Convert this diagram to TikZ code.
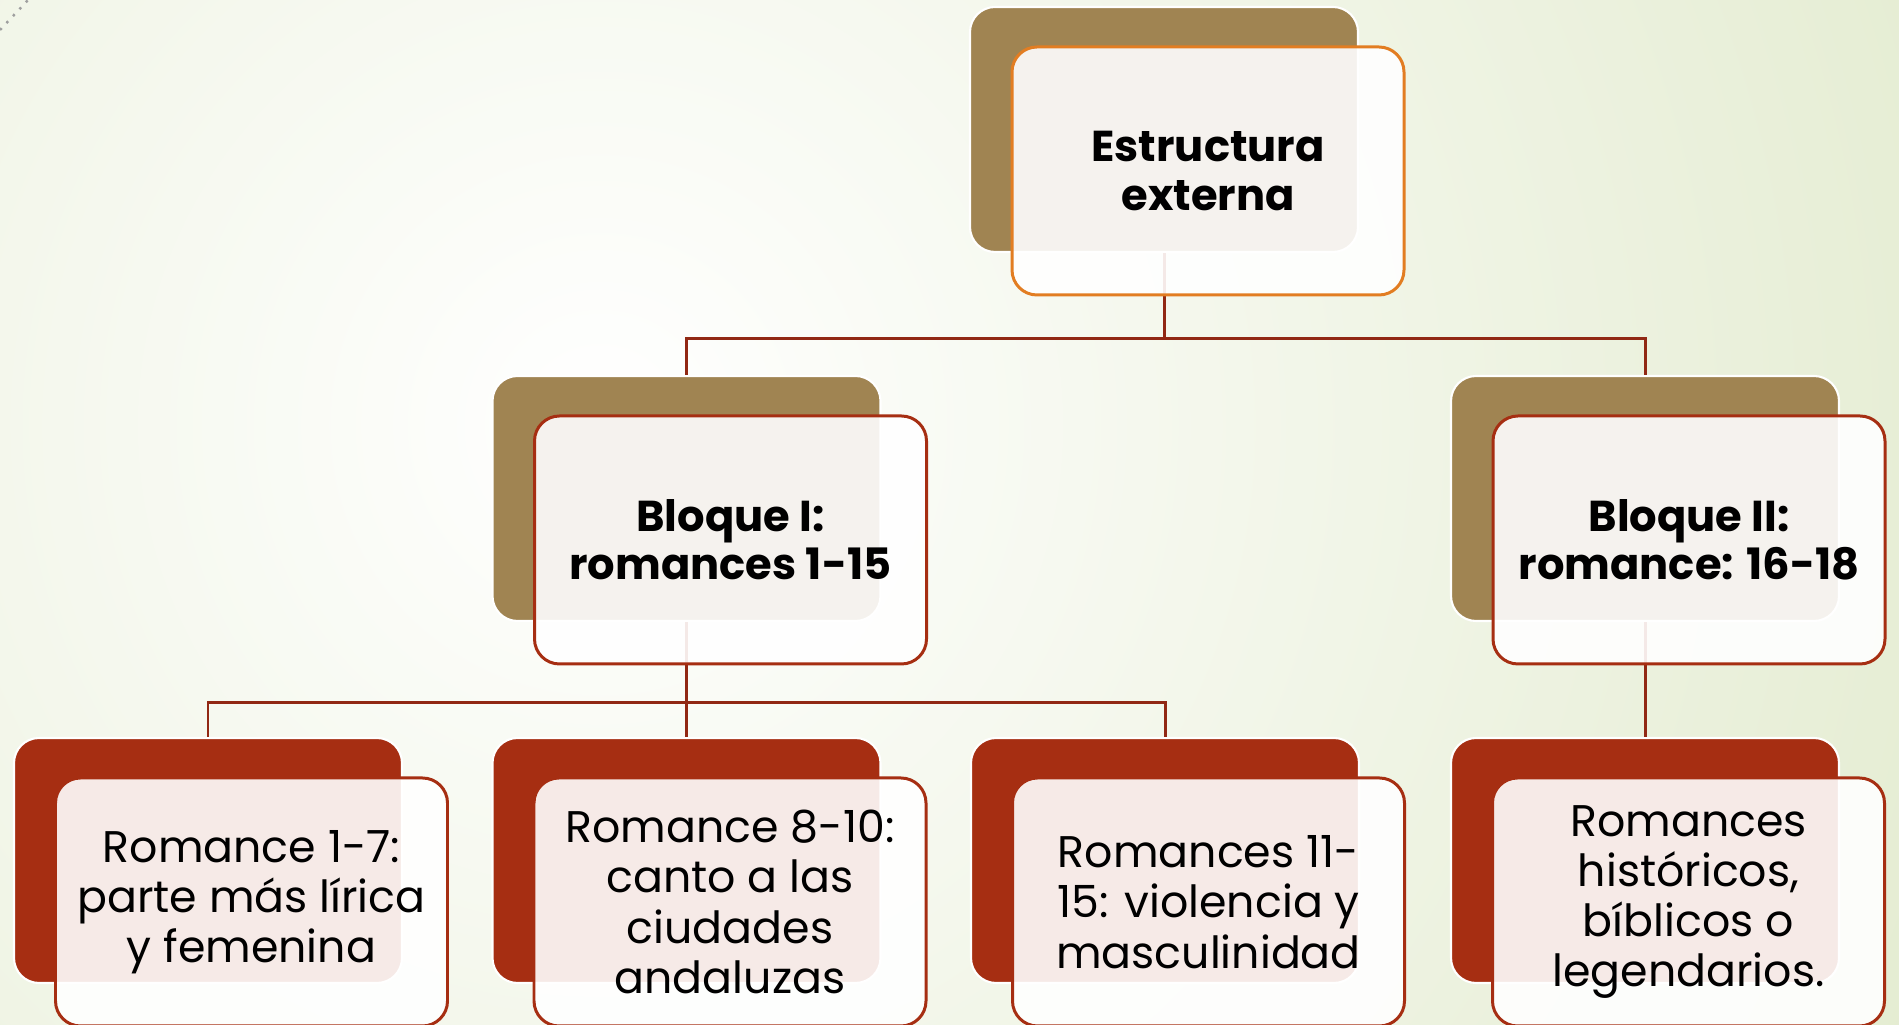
\documentclass[tikz,border=0pt]{standalone}
\usepackage{fontspec}
\setmainfont{Poppins}
\usepackage{xcolor}
\usetikzlibrary{positioning, calc}

\definecolor{bgout}{RGB}{221,231,197}
\definecolor{tanback}{RGB}{160,132,82}
\definecolor{rustback}{RGB}{166,46,18}
\definecolor{orangeline}{RGB}{226,125,34}
\definecolor{rustline}{RGB}{166,46,18}
\definecolor{linkred}{RGB}{145,40,20}

\tikzset{
  backbox/.style={rounded corners=0.25cm, draw=white, line width=0.6pt,
    minimum width=3.88cm, minimum height=2.45cm, inner sep=0pt},
  tanbox/.style={backbox, fill=tanback},
  rustbox/.style={backbox, fill=rustback},
  frontbox/.style={rounded corners=0.25cm, fill=white, fill opacity=0.9,
    text opacity=1, line width=0.85pt, minimum width=3.92cm,
    minimum height=2.48cm, inner sep=0pt, align=center},
  headtext/.style={font=\fontsize{12.3}{13.7}\selectfont\bfseries},
  bodytext/.style={font=\fontsize{12.6}{14.3}\selectfont},
  link/.style={draw=linkred, line width=0.85pt}
}

\begin{document}
\begin{tikzpicture}
\useasboundingbox (0,0) rectangle (18.99,10.25);
% background
\begin{scope}
\clip (0,0) rectangle (18.99,10.25);
\shade[inner color=white, outer color=bgout] (6.0,6.0) circle (18.5);
\end{scope}
\draw[gray!75, line width=0.7pt, dotted] (0,9.95) -- (0.28,10.25);

% back boxes
\node[tanbox] (top-b) at (11.64,8.955) {};
\node[tanbox] (b1-b) at (6.865,5.265) {};
\node[tanbox] (b2-b) at (16.45,5.265) {};
\node[rustbox] (r1-b) at (2.08,1.645) {};
\node[rustbox] (r2-b) at (6.865,1.645) {};
\node[rustbox] (r3-b) at (11.65,1.645) {};
\node[rustbox] (r4-b) at (16.45,1.645) {};

% links
\draw[link] (top-b.south) -- ++(0,-0.85) -| (b1-b.north);
\draw[link] (top-b.south) -- ++(0,-0.85) -| (b2-b.north);
\draw[link] (b1-b.south) -- ++(0,-0.8) -| (r1-b.north);
\draw[link] (b1-b.south) -- ++(0,-0.8) -| (r2-b.north);
\draw[link] (b1-b.south) -- ++(0,-0.8) -| (r3-b.north);
\draw[link] (b2-b.south) -- (r4-b.north);

% front boxes
\node[frontbox, draw=orangeline, headtext] (top) at ([shift={(0.44,-0.415)}]top-b) {Estructura\\externa};
\node[frontbox, draw=rustline, headtext] (b1) at ([shift={(0.44,-0.415)}]b1-b) {Bloque I:\\romances 1-15};
\node[frontbox, draw=rustline, headtext] (b2) at ([shift={(0.44,-0.415)}]b2-b) {Bloque II:\\romance: 16-18};
\node[frontbox, draw=rustline, bodytext] (r1) at ([shift={(0.435,-0.415)}]r1-b) {Romance 1-7:\\parte más lírica\\y femenina};
\node[frontbox, draw=rustline, bodytext] (r2) at ([shift={(0.435,-0.415)}]r2-b) {Romance 8-10:\\canto a las\\ciudades\\andaluzas};
\node[frontbox, draw=rustline, bodytext] (r3) at ([shift={(0.435,-0.415)}]r3-b) {Romances 11-\\15: violencia y\\masculinidad};
\node[frontbox, draw=rustline, bodytext] (r4) at ([shift={(0.435,-0.415)}]r4-b) {Romances\\históricos,\\bíblicos o\\legendarios.};
\end{tikzpicture}
\end{document}
